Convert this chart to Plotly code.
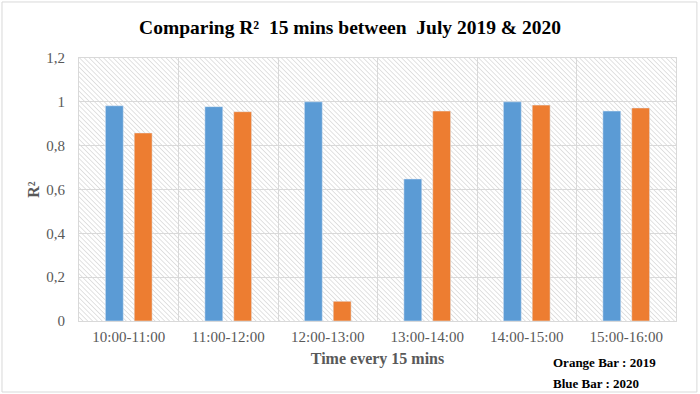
import base64

import plotly.graph_objects as go

# data
time_slots = ["10:00-11:00", "11:00-12:00", "12:00-13:00", "13:00-14:00", "14:00-15:00", "15:00-16:00"]
r2_2020 = [0.982, 0.978, 1.0, 0.648, 1.0, 0.958]   # blue bars
r2_2019 = [0.858, 0.955, 0.09, 0.958, 0.985, 0.972]  # orange bars
y_ticks = [0, 0.2, 0.4, 0.6, 0.8, 1.0, 1.2]

SERIF = "Liberation Serif, Times New Roman, serif"
GRID = "#d9d9d9"
TEXT_GREY = "#595959"

# diagonal hatch used as the plot-area background
hatch_svg = (
    '<svg xmlns="http://www.w3.org/2000/svg" width="597" height="263">'
    '<defs><pattern id="h" width="3.4" height="3.4" patternUnits="userSpaceOnUse" '
    'patternTransform="rotate(-45)">'
    '<line x1="0" y1="0" x2="0" y2="3.4" stroke="#d2d2d2" stroke-width="1.3"/>'
    "</pattern></defs>"
    '<rect width="100%" height="100%" fill="white"/>'
    '<rect width="100%" height="100%" fill="url(#h)"/></svg>'
)
hatch_uri = "data:image/svg+xml;base64," + base64.b64encode(hatch_svg.encode()).decode()

fig = go.Figure()
fig.add_trace(go.Bar(x=time_slots, y=r2_2020, name="2020", marker_color="#5b9bd5"))
fig.add_trace(go.Bar(x=time_slots, y=r2_2019, name="2019", marker_color="#ed7d31"))

fig.add_layout_image(
    source=hatch_uri,
    xref="paper", yref="paper",
    x=0, y=1, sizex=1, sizey=1,
    xanchor="left", yanchor="top",
    sizing="stretch", layer="below",
)

# outer chart frame
fig.add_shape(
    type="rect", xref="paper", yref="paper",
    x0=-0.129, x1=1.035, y0=-0.27, y1=1.213,
    line=dict(color="#d9d9d9", width=1),
)

fig.add_annotation(
    text="<b>Orange Bar : 2019</b>", xref="paper", yref="paper",
    x=0.79, y=-0.157, xanchor="left", yanchor="middle",
    showarrow=False, font=dict(family=SERIF, size=13, color="black"),
)
fig.add_annotation(
    text="<b>Blue Bar : 2020</b>", xref="paper", yref="paper",
    x=0.79, y=-0.237, xanchor="left", yanchor="middle",
    showarrow=False, font=dict(family=SERIF, size=13, color="black"),
)

fig.update_layout(
    width=700,
    height=394,
    margin=dict(l=79, r=24, t=58, b=73, autoexpand=False),
    paper_bgcolor="white",
    plot_bgcolor="rgba(0,0,0,0)",
    separators=", ",
    showlegend=False,
    barmode="group",
    bargap=0.42,
    bargroupgap=0.38,
    title=dict(
        text="<b>Comparing R²  15 mins between  July 2019 &amp; 2020</b>",
        x=0.5, xanchor="center", y=0.93, yanchor="middle",
        font=dict(family=SERIF, size=19.5, color="black"),
        automargin=False,
    ),
    font=dict(family=SERIF, color=TEXT_GREY),
)
fig.update_xaxes(
    automargin=False,
    tickson="boundaries",
    showgrid=True, gridcolor=GRID, gridwidth=1,
    showline=True, linecolor=GRID, mirror=True,
    ticks="", ticklabelstandoff=2,
    tickfont=dict(family=SERIF, size=15, color=TEXT_GREY),
    title=dict(text="<b>Time every 15 mins</b>", standoff=8,
               font=dict(family=SERIF, size=16, color=TEXT_GREY)),
)
fig.update_yaxes(
    automargin=False,
    range=[0, 1.2], tickvals=y_ticks,
    showgrid=True, gridcolor=GRID, gridwidth=1,
    showline=True, linecolor=GRID, mirror=True, zeroline=False,
    ticks="", ticklabelstandoff=10,
    tickfont=dict(family=SERIF, size=15, color=TEXT_GREY),
    title=dict(text="<b>R²</b>", standoff=2,
               font=dict(family=SERIF, size=16, color=TEXT_GREY)),
)

# drop the page's default body margin so the 700x394 figure fills the window
fig.write_html(
    "out.html",
    config={"displayModeBar": False},
    post_script="document.body.style.margin='0';",
)
